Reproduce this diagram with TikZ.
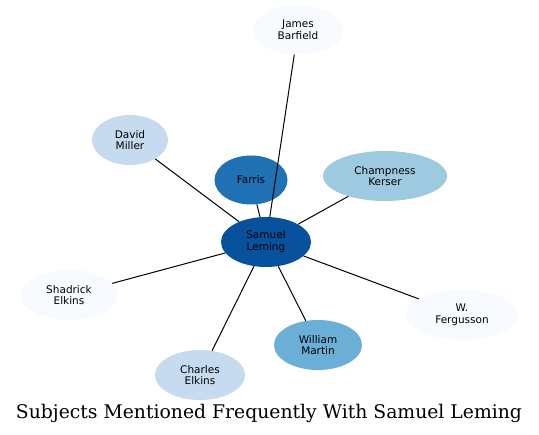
\documentclass[tikz,border=0pt]{standalone}
\usepackage{fontspec}
\setmainfont{DejaVu Sans}
\newfontfamily\titlefont{DejaVu Serif}
\usetikzlibrary{shapes.geometric}
\definecolor{b1}{HTML}{F7FBFF}
\definecolor{b3}{HTML}{C6DBEF}
\definecolor{b4}{HTML}{9ECAE1}
\definecolor{b5}{HTML}{6BAED6}
\definecolor{b7}{HTML}{2171B5}
\definecolor{b8}{HTML}{08519C}
\tikzset{
  ent/.style={ellipse, inner sep=0pt, align=center, text=black,
    font=\fontsize{10.5}{11.8}\selectfont},
  edge/.style={draw=black, line width=1pt}
}
\begin{document}
\begin{tikzpicture}[x=1pt,y=-1pt]
\useasboundingbox (0,0) rectangle (539,435);
\fill[white] (0,0) rectangle (539,435);
\node[ent, fill=b8, minimum width=90pt, minimum height=50pt] (sl) at (266,242) {Samuel\\Leming};
\node[ent, fill=b7, minimum width=73pt, minimum height=49pt] (fa) at (251,180) {Farris};
\node[ent, fill=b4, minimum width=124pt, minimum height=50pt] (ck) at (385,176) {Champness\\Kerser};
\node[ent, fill=b1, minimum width=91pt, minimum height=49pt] (jb) at (298,30) {James\\Barfield};
\node[ent, fill=b3, minimum width=76pt, minimum height=50pt] (dm) at (130,140) {David\\Miller};
\node[ent, fill=b1, minimum width=97pt, minimum height=50pt] (se) at (69,295) {Shadrick\\Elkins};
\node[ent, fill=b3, minimum width=90pt, minimum height=50pt] (ce) at (200,375) {Charles\\Elkins};
\node[ent, fill=b5, minimum width=88pt, minimum height=50pt] (wm) at (318,345) {William\\Martin};
\node[ent, fill=b1, minimum width=112pt, minimum height=50pt] (wf) at (462,315) {W.\\Fergusson};
\draw[edge] (sl) -- (fa);
\draw[edge] (sl) -- (ck);
\draw[edge] (sl) -- (jb);
\draw[edge] (sl) -- (dm);
\draw[edge] (sl) -- (se);
\draw[edge] (sl) -- (ce);
\draw[edge] (sl) -- (wm);
\draw[edge] (sl) -- (wf);
\node[inner sep=0pt] (title) at (269,413) {\resizebox{506pt}{!}{\titlefont\fontsize{14}{16}\selectfont Subjects Mentioned Frequently With Samuel Leming}};
\end{tikzpicture}
\end{document}
